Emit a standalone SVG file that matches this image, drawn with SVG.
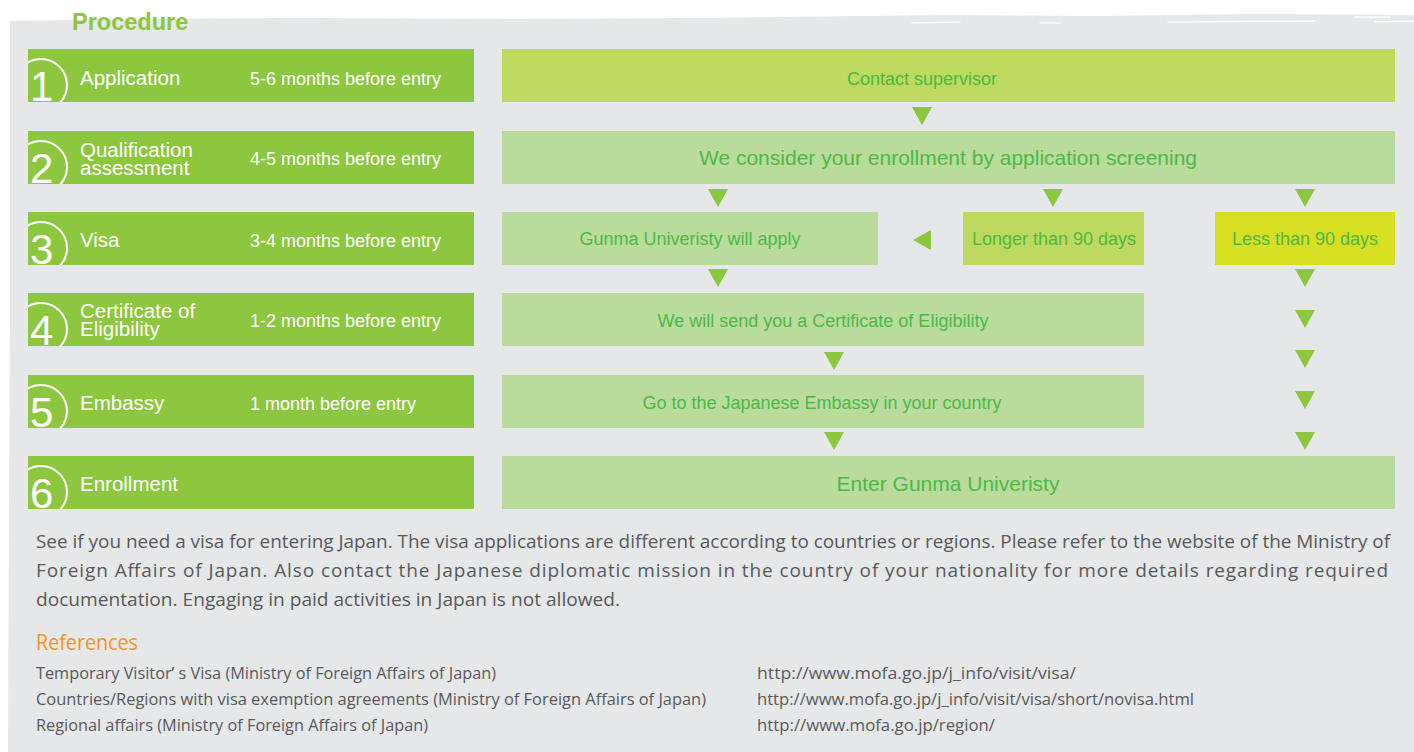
<svg xmlns="http://www.w3.org/2000/svg" width="1414" height="752" viewBox="0 0 1414 752">
<style>
.bar{fill:#8dc63f}
.ring{fill:none;stroke:#fff;stroke-width:2}
.num{font-family:"Liberation Sans",Arial,sans-serif;font-size:42px;fill:#fff}
.lbl{font-family:"Liberation Sans",Arial,sans-serif;font-size:20.5px;fill:#fff}
.tm{font-family:"Liberation Sans",Arial,sans-serif;font-size:18px;fill:#fff}
.bx1{fill:#bed95f}
.bx2{fill:#b9dc9d}
.bx3{fill:#d7df23}
.bt{font-family:"Liberation Sans",Arial,sans-serif;font-size:18px;fill:#4db848;text-anchor:middle}
.bt2{font-family:"Liberation Sans",Arial,sans-serif;font-size:21px;fill:#4db848;text-anchor:middle}
.ar{fill:#8dc63f}
.body{font-family:"Open Sans","DejaVu Sans",sans-serif;font-size:19px;fill:#58595b}
.ref{font-family:"Open Sans","DejaVu Sans",sans-serif;font-size:16px;fill:#58595b}
</style>
<defs>
<clipPath id="rowclip" clipPathUnits="userSpaceOnUse"><rect x="0" y="0" width="446" height="53"/></clipPath>
</defs>
<rect width="1414" height="752" fill="#fff"/>
<path d="M10,21 L120,19 L300,18 L520,19 L700,18 L860,16 L950,15 L1100,16 L1250,14 L1414,15 L1414,752 L8,752 L9,500 L10,300 Z" fill="#e6e7e8"/>
<g stroke="#fff" stroke-width="1.5" stroke-linecap="round" opacity="0.9">
<line x1="912" y1="23" x2="960" y2="22"/>
<line x1="1040" y1="23" x2="1060" y2="23"/>
<line x1="1168" y1="22" x2="1315" y2="21"/>
<line x1="1375" y1="22" x2="1414" y2="21"/>
<line x1="1355" y1="17" x2="1390" y2="17"/>
</g>
<text x="72" y="30" font-family="Liberation Sans,Arial,sans-serif" font-size="23.5" font-weight="bold" fill="#8dc63f">Procedure</text>

<g id="step1" transform="translate(28,49)">
<g clip-path="url(#rowclip)"><rect class="bar" width="446" height="53"/><circle class="ring" cx="13" cy="36" r="26"/><text class="num" x="2" y="52">1</text></g>
<text class="lbl" x="52" y="36">Application</text><text class="tm" x="222" y="36">5-6 months before entry</text>
</g>
<g id="step2" transform="translate(28,131)">
<g clip-path="url(#rowclip)"><rect class="bar" width="446" height="53"/><circle class="ring" cx="13" cy="36" r="26"/><text class="num" x="2" y="52">2</text></g>
<text class="lbl" x="52" y="26"><tspan x="52" y="26">Qualification</tspan><tspan x="52" y="44">assessment</tspan></text><text class="tm" x="222" y="34">4-5 months before entry</text>
</g>
<g id="step3" transform="translate(28,212)">
<g clip-path="url(#rowclip)"><rect class="bar" width="446" height="53"/><circle class="ring" cx="13" cy="36" r="26"/><text class="num" x="2" y="52">3</text></g>
<text class="lbl" x="52" y="35">Visa</text><text class="tm" x="222" y="35">3-4 months before entry</text>
</g>
<g id="step4" transform="translate(28,293)">
<g clip-path="url(#rowclip)"><rect class="bar" width="446" height="53"/><circle class="ring" cx="13" cy="36" r="26"/><text class="num" x="2" y="52">4</text></g>
<text class="lbl" x="52" y="25"><tspan x="52" y="25">Certificate of</tspan><tspan x="52" y="43">Eligibility</tspan></text><text class="tm" x="222" y="34">1-2 months before entry</text>
</g>
<g id="step5" transform="translate(28,375)">
<g clip-path="url(#rowclip)"><rect class="bar" width="446" height="53"/><circle class="ring" cx="13" cy="36" r="26"/><text class="num" x="2" y="52">5</text></g>
<text class="lbl" x="52" y="35">Embassy</text><text class="tm" x="222" y="35">1 month before entry</text>
</g>
<g id="step6" transform="translate(28,456)">
<g clip-path="url(#rowclip)"><rect class="bar" width="446" height="53"/><circle class="ring" cx="13" cy="36" r="26"/><text class="num" x="2" y="52">6</text></g>
<text class="lbl" x="52" y="35">Enrollment</text>
</g>

<g id="contact"><rect class="bx1" x="502" y="49" width="893" height="53"/><text class="bt" x="922" y="85">Contact supervisor</text></g>
<g id="screening"><rect class="bx2" x="502" y="131" width="893" height="53"/><text class="bt2" x="948" y="165">We consider your enrollment by application screening</text></g>
<g id="gunma-apply"><rect class="bx2" x="502" y="212" width="376" height="53"/><text class="bt" x="690" y="245">Gunma Univeristy will apply</text></g>
<g id="longer"><rect class="bx1" x="963" y="212" width="181" height="53"/><text class="bt" x="1054" y="245">Longer than 90 days</text></g>
<g id="less"><rect class="bx3" x="1215" y="212" width="180" height="53"/><text class="bt" x="1305" y="245">Less than 90 days</text></g>
<g id="certificate"><rect class="bx2" x="502" y="293" width="642" height="53"/><text class="bt" x="823" y="327">We will send you a Certificate of Eligibility</text></g>
<g id="embassy"><rect class="bx2" x="502" y="375" width="642" height="53"/><text class="bt" x="822" y="409">Go to the Japanese Embassy in your country</text></g>
<g id="enter"><rect class="bx2" x="502" y="456" width="893" height="53"/><text class="bt2" x="948" y="491">Enter Gunma Univeristy</text></g>

<g id="connectors" class="ar">
<polygon points="912,107 932,107 922,125"/>
<polygon points="708,189 728,189 718,207"/>
<polygon points="1043,189 1063,189 1053,207"/>
<polygon points="1295,189 1315,189 1305,207"/>
<polygon points="931,230 931,250 913,240"/>
<polygon points="708,269 728,269 718,287"/>
<polygon points="1295,269 1315,269 1305,287"/>
<polygon points="1295,310 1315,310 1305,328"/>
<polygon points="824,352 844,352 834,370"/>
<polygon points="1295,350 1315,350 1305,368"/>
<polygon points="1295,391 1315,391 1305,409"/>
<polygon points="824,432 844,432 834,450"/>
<polygon points="1295,432 1315,432 1305,450"/>
</g>

<g id="notes">
<text class="body" x="36" y="548" textLength="1354" lengthAdjust="spacingAndGlyphs">See if you need a visa for entering Japan. The visa applications are different according to countries or regions. Please refer to the website of the Ministry of</text>
<text class="body" x="36" y="577" textLength="1352" lengthAdjust="spacing">Foreign Affairs of Japan. Also contact the Japanese diplomatic mission in the country of your nationality for more details regarding required</text>
<text class="body" x="36" y="606" textLength="584" lengthAdjust="spacingAndGlyphs">documentation. Engaging in paid activities in Japan is not allowed.</text>
<text x="36" y="650" font-family="Open Sans,DejaVu Sans,sans-serif" font-size="21" fill="#f7941d" textLength="102" lengthAdjust="spacingAndGlyphs">References</text>
<text class="ref" x="36" y="679" textLength="460" lengthAdjust="spacingAndGlyphs">Temporary Visitor’ s Visa (Ministry of Foreign Affairs of Japan)</text>
<text class="ref" x="36" y="705" textLength="670" lengthAdjust="spacingAndGlyphs">Countries/Regions with visa exemption agreements (Ministry of Foreign Affairs of Japan)</text>
<text class="ref" x="36" y="731" textLength="392" lengthAdjust="spacingAndGlyphs">Regional affairs (Ministry of Foreign Affairs of Japan)</text>
<text class="ref" x="757" y="679" textLength="319" lengthAdjust="spacingAndGlyphs">http://www.mofa.go.jp/j_info/visit/visa/</text>
<text class="ref" x="757" y="705" textLength="437" lengthAdjust="spacingAndGlyphs">http://www.mofa.go.jp/j_info/visit/visa/short/novisa.html</text>
<text class="ref" x="757" y="731" textLength="238" lengthAdjust="spacingAndGlyphs">http://www.mofa.go.jp/region/</text>
</g>
</svg>
